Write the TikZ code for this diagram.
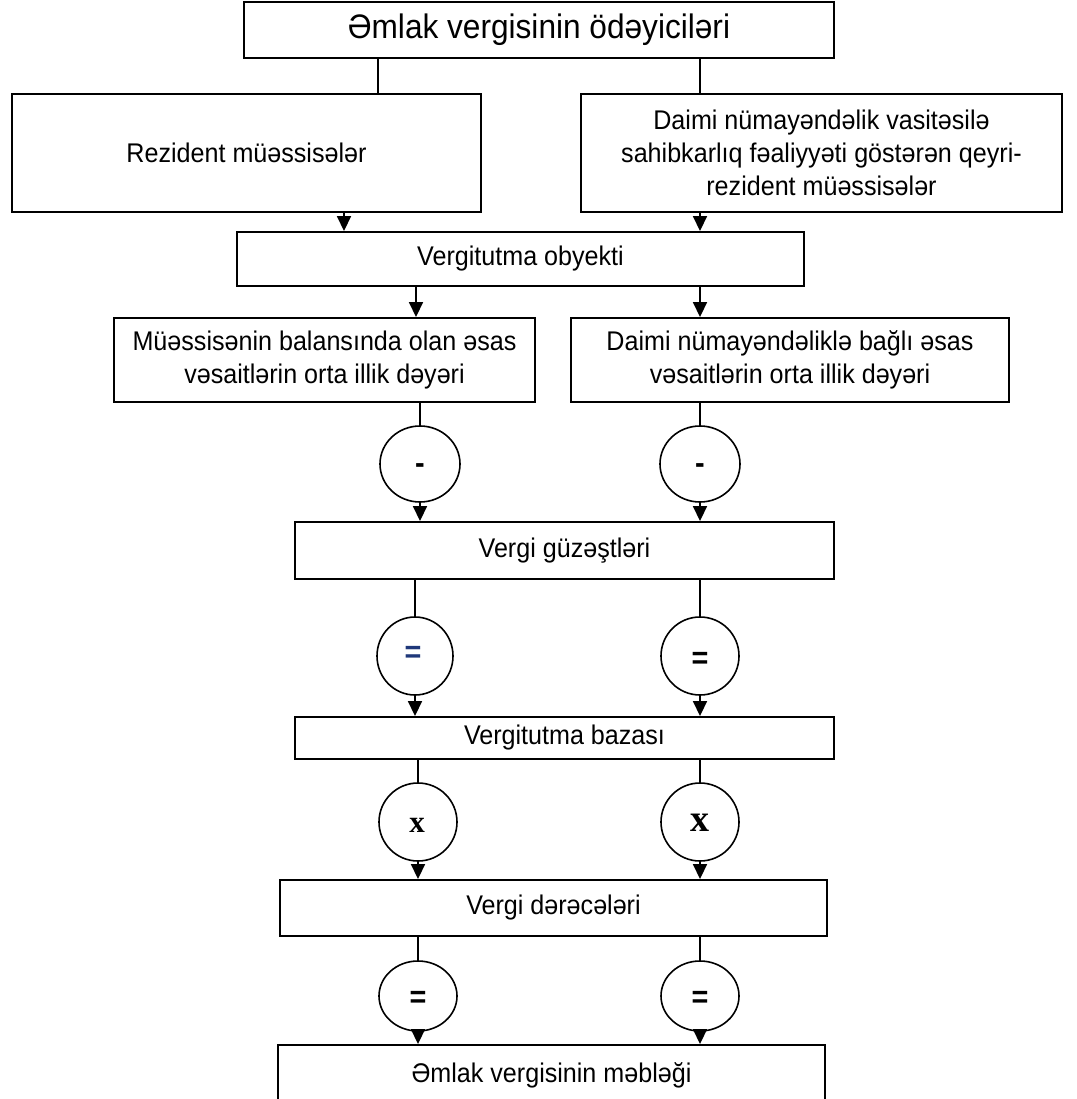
\documentclass[tikz,border=0pt]{standalone}
\usepackage{fontspec}
\setmainfont[FakeStretch=0.93]{Liberation Sans}
\newfontfamily\opserif{Liberation Serif}
\usetikzlibrary{arrows.meta,shapes.geometric}

\begin{document}
\begin{tikzpicture}[x=1pt,y=-1pt,
  box/.style={draw, line width=1.9pt, inner sep=0pt, align=center,
              font=\fontsize{27}{33}\selectfont},
  opnode/.style={draw, ellipse, line width=1.6pt, inner sep=0pt,
                 minimum width=78pt, minimum height=78pt},
  opsym/.style={font=\fontsize{31}{31}\selectfont\bfseries},
  link/.style={line width=1.7pt},
  arr/.style={line width=1.7pt, -{Triangle[width=14pt,length=15pt]}},
]
\clip (0,0) rectangle (1076,1099);
\fill[white] (0,0) rectangle (1076,1099);

% column positions of the vertical connectors
\coordinate (xa) at (378,0);
\coordinate (xb) at (700,0);
\coordinate (xc) at (344,0);
\coordinate (xd) at (416,0);

% boxes
\node[box, minimum width=590pt, minimum height=56pt,
      font=\fontsize{34}{38}\selectfont] (title) at (539,30) {Əmlak vergisinin ödəyiciləri};
\node[box, minimum width=469pt, minimum height=118pt] (rez) at (246.5,153) {Rezident müəssisələr};
\node[box, minimum width=481pt, minimum height=118pt] (nonrez) at (821.5,153)
  {Daimi nümayəndəlik vasitəsilə\\sahibkarlıq fəaliyyəti göstərən qeyri-\\rezident müəssisələr};
\node[box, minimum width=567pt, minimum height=54pt] (obj) at (520.5,259) {Vergitutma obyekti};
\node[box, minimum width=421pt, minimum height=84pt] (balL) at (324.5,360)
  {Müəssisənin balansında olan əsas\\vəsaitlərin orta illik dəyəri};
\node[box, minimum width=438pt, minimum height=84pt] (balR) at (790,360)
  {Daimi nümayəndəliklə bağlı əsas\\vəsaitlərin orta illik dəyəri};
\node[box, minimum width=539pt, minimum height=57pt] (guz) at (564.5,550.5) {Vergi güzəştləri};
\node[box, minimum width=539pt, minimum height=42pt] (baza) at (564.5,738) {Vergitutma bazası};
\node[box, minimum width=547pt, minimum height=56pt] (rate) at (553.5,908) {Vergi dərəcələri};
\node[box, minimum width=547pt, minimum height=60pt] (sum) at (551.5,1075) {Əmlak vergisinin məbləği};

% operation circles
\node[opnode, minimum width=80pt, minimum height=76pt] (m1) at (420,464) {};
\node[opnode, minimum width=80pt, minimum height=76pt] (m2) at (700,464) {};
\node[opsym] at (420,469) {-};
\node[opsym] at (700,469) {-};

\node[opnode, minimum width=76pt, minimum height=78pt] (e1) at (415,656) {};
\node[opnode, minimum width=78pt, minimum height=78pt] (e2) at (700,656) {};
\node[opsym, text={rgb,255:red,31;green,56;blue,122}] at (413,654) {=};
\node[opsym] at (700,660) {=};

\node[opnode] (x1) at (418,822) {};
\node[opnode] (x2) at (700,822) {};
\node[font=\opserif\bfseries\fontsize{31}{31}\selectfont] at (417,825) {x};
\node[font=\opserif\bfseries\fontsize{38}{38}\selectfont] at (700,823) {x};

\node[opnode, minimum width=78pt, minimum height=70pt] (q1) at (418,996) {};
\node[opnode, minimum width=78pt, minimum height=70pt] (q2) at (700,996) {};
\node[opsym] at (418,999) {=};
\node[opsym] at (700,999) {=};

% connectors
\draw[link] (title.south -| xa) -- (rez.north -| xa);
\draw[link] (title.south -| xb) -- (nonrez.north -| xb);
\draw[arr] (rez.south -| xc) -- (obj.north -| xc);
\draw[arr] (nonrez.south -| xb) -- (obj.north -| xb);
\draw[arr] (obj.south -| xd) -- (balL.north -| xd);
\draw[arr] (obj.south -| xb) -- (balR.north -| xb);

\draw[link] (balL.south -| m1) -- (m1.north);
\draw[link] (balR.south -| m2) -- (m2.north);
\draw[arr] (m1.south) -- (m1.south |- guz.north);
\draw[arr] (m2.south) -- (m2.south |- guz.north);

\draw[link] (guz.south -| e1) -- (e1.north);
\draw[link] (guz.south -| e2) -- (e2.north);
\draw[arr] (e1.south) -- (e1.south |- baza.north);
\draw[arr] (e2.south) -- (e2.south |- baza.north);

\draw[link] (baza.south -| x1) -- (x1.north);
\draw[link] (baza.south -| x2) -- (x2.north);
\draw[arr] (x1.south) -- (x1.south |- rate.north);
\draw[arr] (x2.south) -- (x2.south |- rate.north);

\draw[link] (rate.south -| q1) -- (q1.north);
\draw[link] (rate.south -| q2) -- (q2.north);
\draw[arr] (q1.south) -- (q1.south |- sum.north);
\draw[arr] (q2.south) -- (q2.south |- sum.north);
\end{tikzpicture}
\end{document}
